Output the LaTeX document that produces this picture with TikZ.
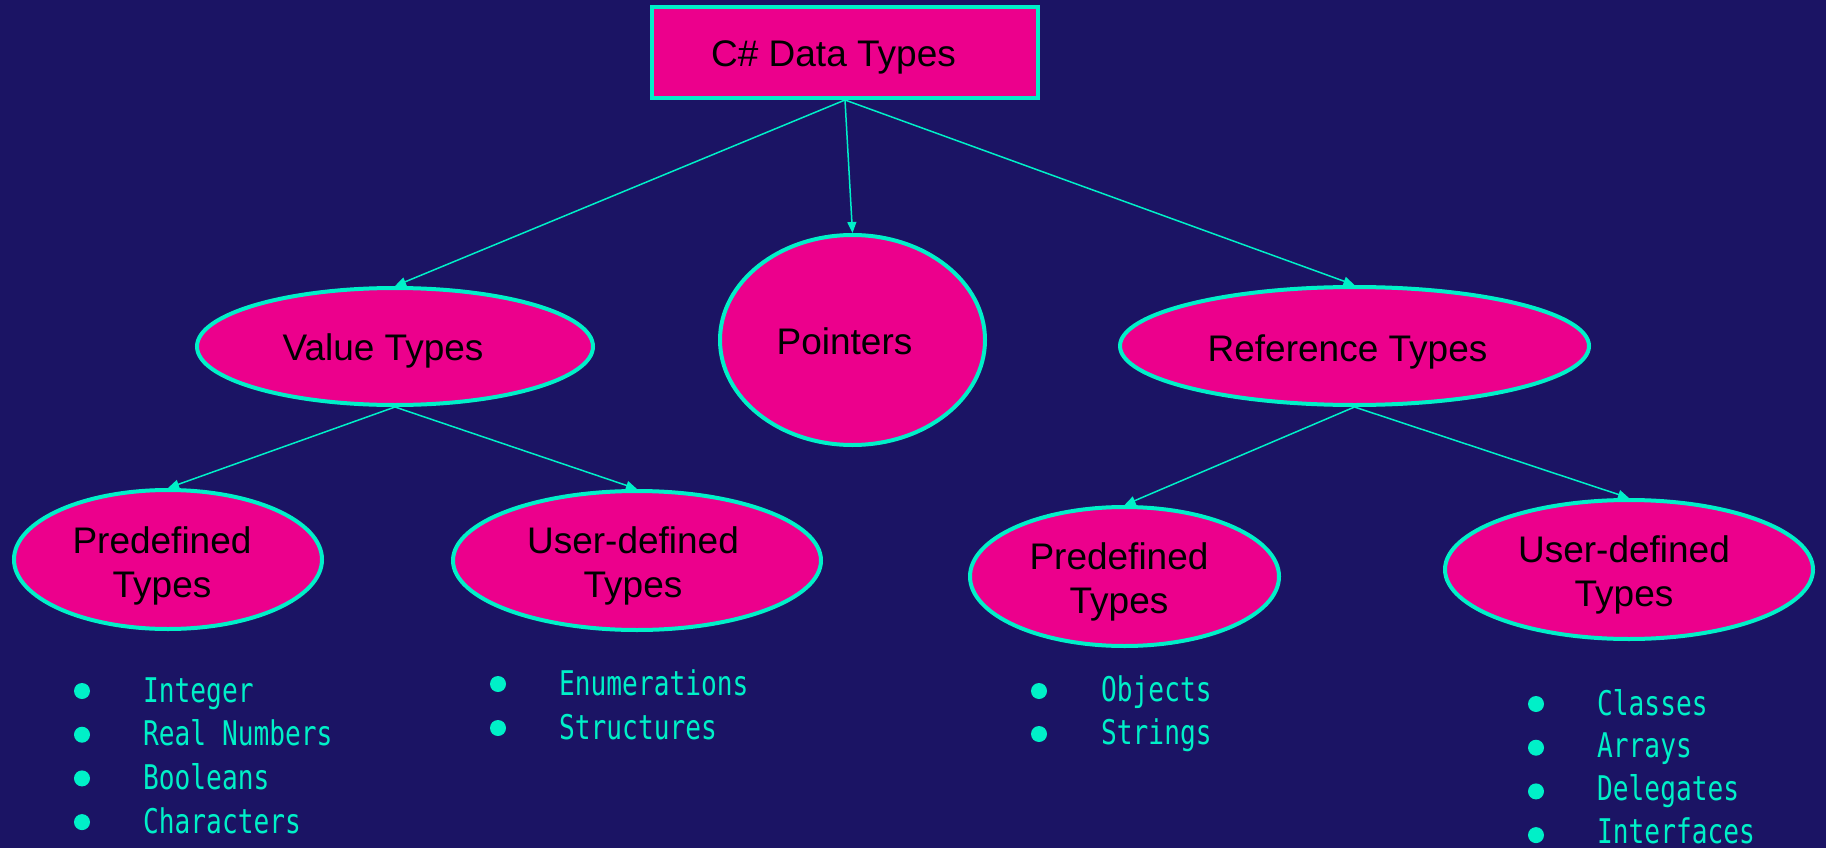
\documentclass[tikz,border=0pt]{standalone}
\usepackage{fontspec}
\setmainfont{Liberation Sans}
\newfontfamily\listfont[FakeStretch=0.77]{DejaVu Sans Mono}
\usetikzlibrary{arrows.meta,shapes.geometric}

\definecolor{bgnavy}{RGB}{27,20,100}
\definecolor{hotpink}{RGB}{236,0,140}
\definecolor{aqua}{RGB}{0,240,200}

\tikzset{
  typebox/.style={rectangle, draw=aqua, fill=hotpink, line width=4pt, inner sep=0pt},
  typeoval/.style={ellipse, draw=aqua, fill=hotpink, line width=4pt, inner sep=0pt},
  lbl/.style={anchor=base, inner sep=0pt, text=black, font=\fontsize{37}{44}\selectfont},
  link/.style={draw=aqua, line width=1.5pt, -{Triangle[length=11pt,width=9pt]}},
  dot/.style={circle, fill=aqua, minimum size=16pt, inner sep=0pt},
  item/.style={anchor=base west, inner sep=0pt, text=aqua, font=\listfont\fontsize{34}{40}\selectfont},
}

\begin{document}
\begin{tikzpicture}[x=1pt, y=-1pt]
  % canvas
  \fill[bgnavy] (0,0) rectangle (1826,848);
  \useasboundingbox (0,0) rectangle (1826,848);

  % shapes
  \node[typebox, minimum width=386pt, minimum height=91pt] (root) at (845,52.5) {};
  \node[typeoval, minimum width=396pt, minimum height=117pt] (val) at (395,346.5) {};
  \node[typeoval, minimum width=265pt, minimum height=210pt] (ptr) at (852.5,340) {};
  \node[typeoval, minimum width=469pt, minimum height=118pt] (ref) at (1354.5,346) {};
  \node[typeoval, minimum width=308pt, minimum height=139pt] (vpre) at (168,559.5) {};
  \node[typeoval, minimum width=368pt, minimum height=139pt] (vusr) at (637,560.5) {};
  \node[typeoval, minimum width=309pt, minimum height=139pt] (rpre) at (1124.5,576.5) {};
  \node[typeoval, minimum width=368pt, minimum height=139pt] (rusr) at (1629,569.5) {};

  % labels
  \node[lbl] (rootT) at (833.5,67) {C\# Data Types};
  \node[lbl] (valT) at (383,360) {Value Types};
  \node[lbl] (ptrT) at (844.5,354) {Pointers};
  \node[lbl] (refT) at (1347.5,361) {Reference Types};
  \node[lbl] (vpreT) at (162,553) {\begin{tabular}[t]{@{}c@{}}Predefined\\Types\end{tabular}};
  \node[lbl] (vusrT) at (633,553) {\begin{tabular}[t]{@{}c@{}}User-defined\\Types\end{tabular}};
  \node[lbl] (rpreT) at (1119,569) {\begin{tabular}[t]{@{}c@{}}Predefined\\Types\end{tabular}};
  \node[lbl] (rusrT) at (1624,562) {\begin{tabular}[t]{@{}c@{}}User-defined\\Types\end{tabular}};

  % connectors
  \draw[link] (root.south) -- (val.north);
  \draw[link] (root.south) -- (ptr.north);
  \draw[link] (root.south) -- (ref.north);
  \draw[link] (val.south) -- (vpre.north);
  \draw[link] (val.south) -- (vusr.north);
  \draw[link] (ref.south) -- (rpre.north);
  \draw[link] (ref.south) -- (rusr.north);

  % member lists
  \foreach \t [count=\i] in {Integer, Real Numbers, Booleans, Characters} {
    \node[dot] (vpd\i) at (82,{691+43.7*(\i-1)}) {};
    \node[item] (vpi\i) at (143,{702+43.7*(\i-1)}) {\t};
  }
  \foreach \t [count=\i] in {Enumerations, Structures} {
    \node[dot] (vud\i) at (498,{684+44*(\i-1)}) {};
    \node[item] (vui\i) at (559,{695+44*(\i-1)}) {\t};
  }
  \foreach \t [count=\i] in {Objects, Strings} {
    \node[dot] (rpd\i) at (1039,{691+43*(\i-1)}) {};
    \node[item] (rpi\i) at (1101,{701+43*(\i-1)}) {\t};
  }
  \foreach \t [count=\i] in {Classes, Arrays, Delegates, Interfaces} {
    \node[dot] (rud\i) at (1536,{704+43.7*(\i-1)}) {};
    \node[item] (rui\i) at (1597,{715+42.7*(\i-1)}) {\t};
  }
\end{tikzpicture}
\end{document}
